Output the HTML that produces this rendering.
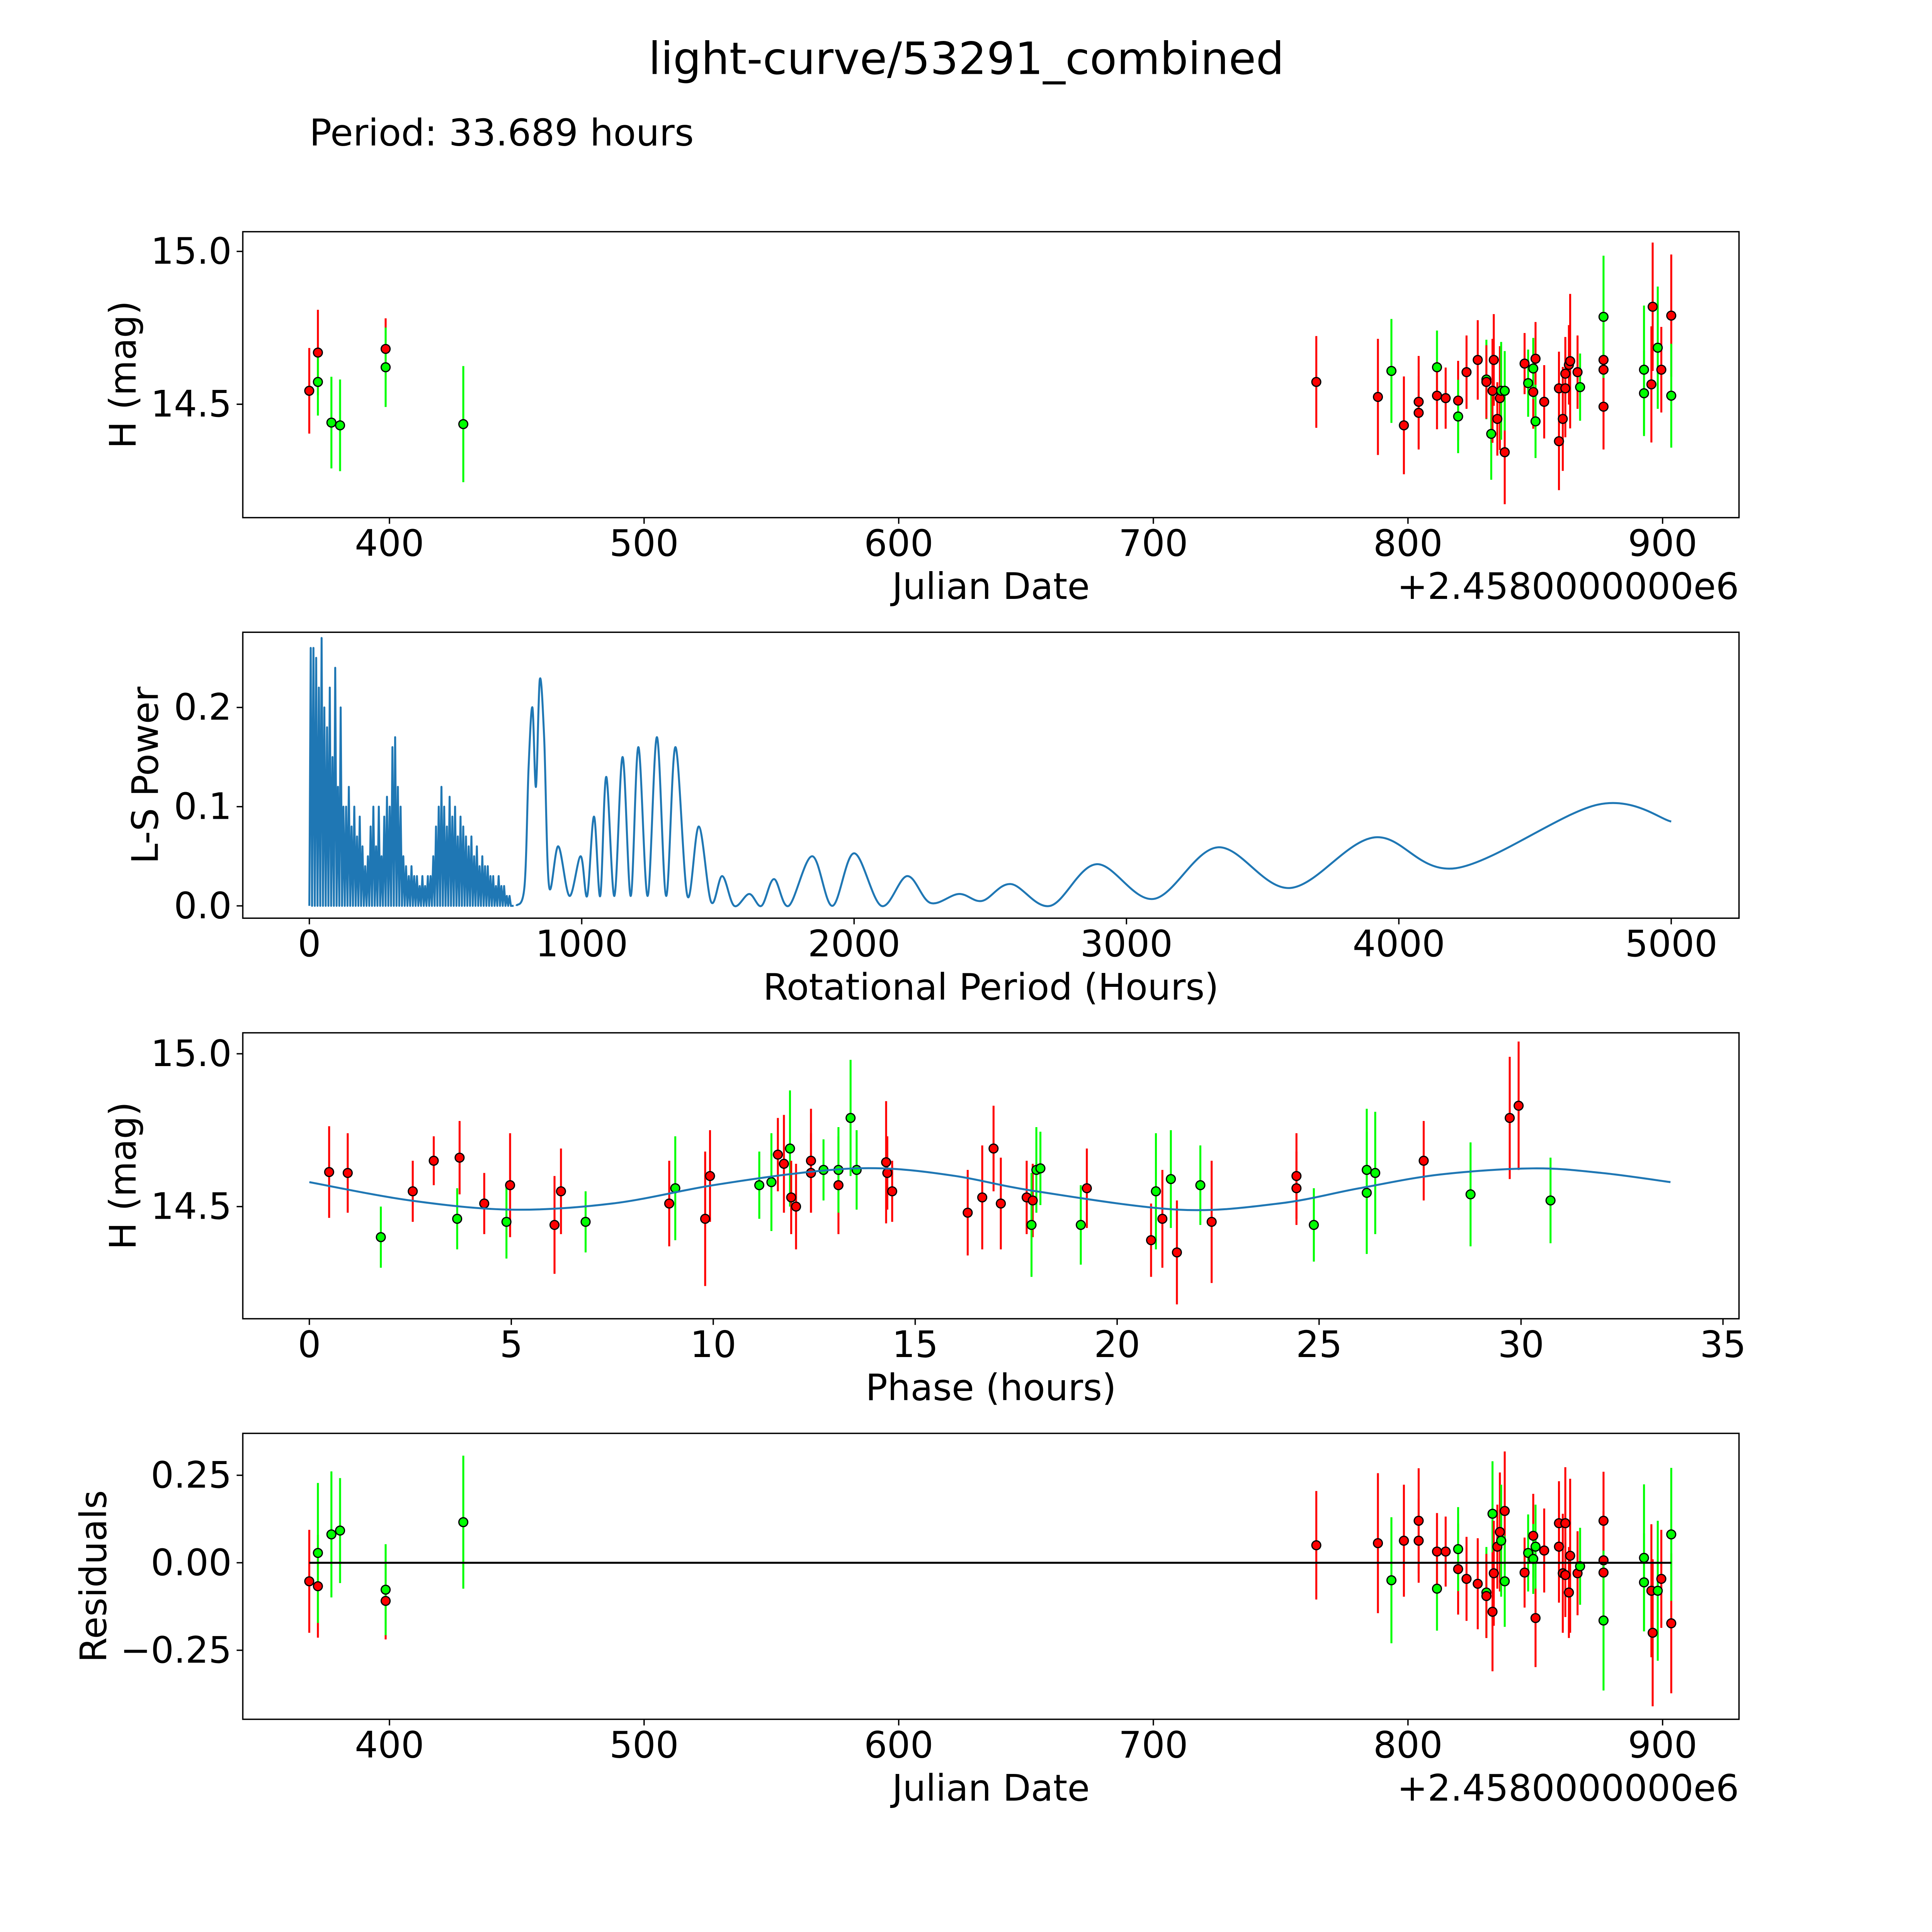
<!DOCTYPE html>
<html><head><meta charset="utf-8">
<style>
html,body{margin:0;padding:0;background:#fff;overflow:hidden;}
svg{display:block;position:absolute;left:0;top:0;}
text{font-family:"DejaVu Sans","Liberation Sans",sans-serif;fill:#000;}
</style></head>
<body>
<svg id="fig" xmlns="http://www.w3.org/2000/svg" width="5400" height="5400" viewBox="0 0 1693 1693">
<rect x="0" y="0" width="1693" height="1693" fill="#fff"/>
<text x="784" y="60" font-size="36" text-anchor="middle">light-curve/53291_combined</text>
<text x="251" y="118" font-size="30">Period: 33.689 hours</text>
</svg>
<script>
// ---------- Panel 1: light curve (Julian Date offset days) ----------
const lcDays = [368.5,371.9,371.9,377.2,380.6,398.5,398.5,429.0,764.0,788.2,793.5,798.4,804.2,804.2,811.4,811.4,814.8,819.7,819.7,823.0,827.4,830.8,830.8,832.7,833.2,833.7,835.1,836.1,836.6,838.0,838.0,845.8,847.2,849.2,849.2,850.1,850.1,853.5,859.3,859.3,860.8,861.8,861.8,863.2,863.7,866.6,867.6,876.8,876.8,876.8,876.8,892.7,892.7,895.6,896.1,898.1,899.5,903.4,903.4];
const lcMag = [14.544,14.669,14.573,14.44,14.431,14.681,14.621,14.435,14.573,14.524,14.609,14.431,14.508,14.472,14.621,14.528,14.52,14.512,14.46,14.605,14.645,14.581,14.573,14.403,14.544,14.645,14.452,14.52,14.544,14.343,14.544,14.633,14.569,14.54,14.617,14.649,14.444,14.508,14.552,14.379,14.452,14.552,14.6,14.629,14.641,14.605,14.556,14.492,14.613,14.645,14.786,14.613,14.536,14.565,14.819,14.685,14.613,14.79,14.528];
const lcErr = [0.14,0.14,0.11,0.15,0.15,0.1,0.13,0.19,0.15,0.19,0.17,0.16,0.15,0.12,0.12,0.11,0.1,0.13,0.12,0.12,0.13,0.13,0.12,0.15,0.17,0.15,0.12,0.17,0.16,0.17,0.13,0.1,0.11,0.12,0.1,0.12,0.12,0.12,0.12,0.16,0.17,0.16,0.12,0.13,0.22,0.12,0.11,0.14,0.14,0.13,0.2,0.21,0.14,0.19,0.21,0.2,0.14,0.2,0.17];
const lcBand = ["r","r","g","g","g","r","g","g","r","r","g","r","r","r","g","r","r","r","g","r","r","g","r","g","r","r","r","r","g","r","g","r","g","r","g","r","g","r","r","r","r","r","r","r","r","r","g","r","r","r","g","g","g","r","r","g","r","r","g"];

// ---------- Panel 2: Lomb-Scargle periodogram ----------
const denseStart = 5, denseStep = 10;
const densePeaks = [0.26,0.26,0.25,0.22,0.27,0.2,0.18,0.22,0.15,0.24,0.12,0.2,0.1,
 0.1,0.12,0.08,0.1,0.07,0.09,0.06,
 0.04,0.05,0.08,0.1,0.06,0.1,0.05,0.09,0.11,0.1,
 0.16,0.17,0.12,0.1,
 0.05,0.04,0.03,0.04,0.03,0.03,0.02,0.03,0.02,0.03,0.03,
 0.05,0.08,0.1,0.12,0.1,0.08,0.11,0.09,0.1,0.07,0.09,0.08,
 0.07,0.06,0.07,0.05,0.06,0.04,0.05,0.04,0.04,0.03,0.03,0.02,0.03,0.02,0.02,0.01,0.01,0.0];
const lsPeriods = [760,790,805,819,832,846,862,880,914,955,996,1020,1045,1068,1090,1120,1150,1180,1208,1242,1276,1310,1344,1388,1430,1475,1516,1560,1615,1660,1706,1760,1846,1920,2000,2100,2195,2280,2385,2470,2575,2720,2890,3100,3335,3600,3910,4210,4730,5000];
const lsPower = [0,0.02,0.14,0.2,0.12,0.228,0.17,0.02,0.06,0.01,0.05,0.01,0.09,0.01,0.13,0.01,0.15,0.01,0.16,0.01,0.17,0.01,0.16,0.01,0.08,0.004,0.03,0.0,0.012,0.0,0.027,0.0,0.05,0.0,0.053,0.0,0.03,0.003,0.012,0.005,0.022,0.0,0.042,0.007,0.059,0.018,0.069,0.038,0.102,0.085];

// ---------- Panel 3: phased light curve ----------
const phHours = [0.49,0.95,1.77,2.56,3.08,3.66,3.72,4.33,4.88,4.97,6.07,6.23,6.84,8.91,9.06,9.8,9.92,11.14,11.44,11.6,11.75,11.9,11.93,12.05,12.42,12.42,12.73,13.1,13.1,13.4,13.55,14.28,14.31,14.43,16.3,16.66,16.94,17.12,17.76,17.91,17.88,18.0,18.1,19.1,19.25,20.84,20.96,21.12,21.33,21.48,22.06,22.34,24.44,24.44,24.87,26.18,26.18,26.39,27.59,28.75,29.72,29.94,30.73];
const phMag = [14.613,14.61,14.40,14.55,14.65,14.46,14.66,14.51,14.45,14.57,14.44,14.55,14.45,14.51,14.56,14.46,14.60,14.57,14.58,14.67,14.64,14.69,14.53,14.50,14.65,14.61,14.62,14.57,14.62,14.79,14.62,14.645,14.61,14.55,14.48,14.53,14.69,14.51,14.53,14.52,14.44,14.62,14.625,14.44,14.56,14.39,14.55,14.46,14.59,14.35,14.57,14.45,14.60,14.56,14.44,14.545,14.62,14.61,14.65,14.54,14.79,14.83,14.52];
const phErr = [0.15,0.13,0.1,0.1,0.08,0.1,0.12,0.1,0.12,0.17,0.16,0.14,0.1,0.14,0.17,0.22,0.15,0.11,0.16,0.12,0.16,0.19,0.12,0.14,0.17,0.13,0.1,0.16,0.14,0.19,0.13,0.2,0.12,0.1,0.14,0.17,0.14,0.15,0.12,0.12,0.17,0.14,0.12,0.13,0.13,0.12,0.19,0.16,0.16,0.17,0.13,0.2,0.14,0.12,0.12,0.2,0.2,0.2,0.13,0.17,0.2,0.21,0.14];
const phBand = ["r","r","g","r","r","g","r","r","g","r","r","r","g","r","g","r","r","g","g","r","r","g","r","r","r","r","g","r","g","g","g","r","r","r","r","r","r","r","r","r","g","g","g","g","r","r","g","r","g","r","g","r","r","r","g","g","g","g","r","g","r","r","g"];
const modelPhase = [0,2.5,5,7.5,10,12.5,14.2,16,18,21.5,24,26,28,30.3,32,33.7];
const modelMag = [14.58,14.52,14.49,14.51,14.57,14.615,14.625,14.6,14.55,14.49,14.51,14.56,14.605,14.625,14.61,14.58];

// ---------- Panel 4: residuals ----------
const resDays = [368.5,371.9,371.9,377.2,380.6,398.5,398.5,429.0,764.0,788.2,793.5,798.4,804.2,804.2,811.4,811.4,814.8,819.7,819.7,823.0,827.4,830.8,830.8,833.2,833.2,833.7,835.1,836.1,836.6,838.0,838.0,845.8,847.2,849.2,849.2,850.1,850.1,853.5,859.3,859.3,860.8,861.8,861.8,863.2,863.7,866.6,867.6,876.8,876.8,876.8,876.8,892.7,892.7,895.6,896.1,898.1,899.5,903.4,903.4];
const resVal = [-0.053,-0.067,0.028,0.081,0.092,-0.109,-0.077,0.116,0.05,0.056,-0.05,0.063,0.12,0.063,-0.074,0.032,0.032,-0.018,0.039,-0.046,-0.06,-0.085,-0.095,0.14,-0.14,-0.03,0.046,0.088,0.063,0.148,-0.053,-0.028,0.028,0.077,0.011,-0.158,0.046,0.035,0.113,0.046,-0.03,0.113,-0.035,-0.085,0.02,-0.03,-0.01,0.12,0.007,-0.028,-0.165,0.014,-0.056,-0.08,-0.2,-0.08,-0.046,-0.173,0.081];
const resErr = [0.147,0.147,0.2,0.18,0.15,0.11,0.13,0.19,0.155,0.2,0.18,0.16,0.15,0.12,0.12,0.11,0.1,0.13,0.12,0.12,0.13,0.13,0.12,0.15,0.17,0.15,0.12,0.17,0.16,0.17,0.13,0.1,0.11,0.12,0.1,0.14,0.12,0.12,0.12,0.16,0.17,0.16,0.12,0.13,0.22,0.12,0.11,0.14,0.14,0.13,0.2,0.21,0.14,0.19,0.21,0.2,0.14,0.2,0.19];
const resBand = ["r","r","g","g","g","r","g","g","r","r","g","r","r","r","g","r","r","r","g","r","r","g","r","g","r","r","r","r","g","r","g","r","g","r","g","r","g","r","r","r","r","r","r","r","r","r","g","r","r","r","g","g","g","r","r","g","r","r","g"];

const jdTicks = [400,500,600,700,800,900];
const magTicks = [14.5,15.0];
const magTickLabels = ["14.5","15.0"];
const lsXTicks = [0,1000,2000,3000,4000,5000];
const lsYTicks = [0,0.1,0.2];
const lsYTickLabels = ["0.0","0.1","0.2"];
const phTicks = [0,5,10,15,20,25,30,35];
const resTicks = [-0.25,0,0.25];
const resTickLabels = ["\u22120.25","0.00","0.25"];

const NS = "http://www.w3.org/2000/svg";
const svg = document.getElementById('fig');
const FS = 29.5;
function mk(tag, attrs, parent){
  const e = document.createElementNS(NS, tag);
  for (const k in attrs) e.setAttribute(k, attrs[k]);
  (parent||svg).appendChild(e);
  return e;
}
const L = 197, R = 1411;
function lin(d0,d1,p0,p1){ return v => p0 + (v-d0)*(p1-p0)/(d1-d0); }

function frame(name){
  const g = mk('g', {});
  
  
  return g;
}
function drawBox(g, top, bottom){
  const r = mk('rect', {x:L, y:top, width:R-L, height:bottom-top, fill:'none', stroke:'#000', 'stroke-width':1.1}, g);
  
  
}
function xTicks(g, ticks, labels, sx, bottom){
  ticks.forEach((t,i)=>{
    const x = sx(t);
    const l = mk('line', {x1:x, x2:x, y1:bottom, y2:bottom+5, stroke:'#000', 'stroke-width':1.1}, g);
    
    
    const tx = mk('text', {x:x, y:bottom+31, 'font-size':FS, 'text-anchor':'middle'}, g);
    tx.textContent = labels[i];
    
    
  });
}
function yTicks(g, ticks, labels, sy){
  ticks.forEach((t,i)=>{
    const y = sy(t);
    const l = mk('line', {x1:L-5, x2:L, y1:y, y2:y, stroke:'#000', 'stroke-width':1.1}, g);
    
    
    const tx = mk('text', {x:L-9, y:y+10, 'font-size':FS, 'text-anchor':'end'}, g);
    tx.textContent = labels[i];
    
    
  });
}
function label(g, text, x, y, rot, name, anchor){
  const t = mk('text', {x:x, y:y, 'font-size':FS, 'text-anchor':anchor||'middle'}, g);
  if (rot) t.setAttribute('transform', `rotate(-90 ${x} ${y})`);
  t.textContent = text;
  
  
}
function points(g, xs, ys, es, bands, sx, sy, name){
  const col = {r:'#ff0000', g:'#00ff00'};
  xs.forEach((xv,i)=>{
    const x = sx(xv);
    const el = mk('line', {x1:x, x2:x, y1:sy(ys[i]-es[i]), y2:sy(ys[i]+es[i]), stroke:col[bands[i]], 'stroke-width':1.6}, g);
    
    
  });
  xs.forEach((xv,i)=>{
    const c = mk('circle', {cx:sx(xv), cy:sy(ys[i]), r:3.6, fill:col[bands[i]], stroke:'#000', 'stroke-width':1}, g);
    
    
  });
}
function smoothPath(xs, ys, sx, sy){
  const P = xs.map((v,i)=>[sx(v), sy(ys[i])]);
  let d = `M${P[0][0]},${P[0][1]}`;
  for (let i=0;i<P.length-1;i++){
    const p0 = P[Math.max(0,i-1)], p1 = P[i], p2 = P[i+1], p3 = P[Math.min(P.length-1,i+2)];
    const c1 = [p1[0]+(p2[0]-p0[0])/6, p1[1]+(p2[1]-p0[1])/6];
    const c2 = [p2[0]-(p3[0]-p1[0])/6, p2[1]-(p3[1]-p1[1])/6];
    d += ` C${c1[0]},${c1[1]} ${c2[0]},${c2[1]} ${p2[0]},${p2[1]}`;
  }
  return d;
}

// Panel 1
(function(){
  const top=188, bot=420;
  const g = frame('light-curve-panel');
  const sx = lin(400,900,316,1349), sy = lin(14.5,15.0,328,204);
  points(g, lcDays, lcMag, lcErr, lcBand, sx, sy, 'observation-point');
  drawBox(g, top, bot);
  xTicks(g, jdTicks, jdTicks.map(String), sx, bot);
  yTicks(g, magTicks, magTickLabels, sy);
  label(g, 'Julian Date', 804, 486, false, 'x-axis-title');
  label(g, '+2.4580000000e6', 1411, 486, false, 'x-axis-offset', 'end');
  label(g, 'H (mag)', 110, 304, true, 'y-axis-title');
})();

// Panel 2
(function(){
  const top=513, bot=745;
  const g = frame('periodogram-panel');
  const sx = lin(0,5000,251,1356), sy = lin(0,0.2,735,574);
  let d = `M${sx(0)},${sy(0)}`;
  densePeaks.forEach((v,i)=>{
    const p = denseStart + i*denseStep;
    d += ` L${sx(p)},${sy(v)} L${sx(p+denseStep/2)},${sy(0)}`;
  });
  const dp = mk('path', {d:d, fill:'none', stroke:'#1f77b4', 'stroke-width':1.6, 'stroke-linejoin':'round'}, g);
  
  
  const lp = mk('path', {d:smoothPath(lsPeriods, lsPower, sx, sy), fill:'none', stroke:'#1f77b4', 'stroke-width':1.6}, g);
  
  
  drawBox(g, top, bot);
  xTicks(g, lsXTicks, lsXTicks.map(String), sx, bot);
  yTicks(g, lsYTicks, lsYTickLabels, sy);
  label(g, 'Rotational Period (Hours)', 804, 811, false, 'x-axis-title');
  label(g, 'L-S Power', 128, 629, true, 'y-axis-title');
})();

// Panel 3
(function(){
  const top=838, bot=1070;
  const g = frame('phased-light-curve-panel');
  const sx = lin(0,35,251,1398), sy = lin(14.5,15.0,979,855);
  points(g, phHours, phMag, phErr, phBand, sx, sy, 'phased-point');
  const mp = mk('path', {d:smoothPath(modelPhase, modelMag, sx, sy), fill:'none', stroke:'#1f77b4', 'stroke-width':1.6}, g);
  
  
  drawBox(g, top, bot);
  xTicks(g, phTicks, phTicks.map(String), sx, bot);
  yTicks(g, magTicks, magTickLabels, sy);
  label(g, 'Phase (hours)', 804, 1136, false, 'x-axis-title');
  label(g, 'H (mag)', 110, 954, true, 'y-axis-title');
})();

// Panel 4
(function(){
  const top=1163, bot=1395;
  const g = frame('residuals-panel');
  const sx = lin(400,900,316,1349), sy = lin(0,0.25,1268,1197);
  points(g, resDays, resVal, resErr, resBand, sx, sy, 'residual-point');
  const zl = mk('line', {x1:sx(368.5), x2:sx(903.4), y1:sy(0), y2:sy(0), stroke:'#000', 'stroke-width':1.6}, g);
  
  
  drawBox(g, top, bot);
  xTicks(g, jdTicks, jdTicks.map(String), sx, bot);
  yTicks(g, resTicks, resTickLabels, sy);
  label(g, 'Julian Date', 804, 1461, false, 'x-axis-title');
  label(g, '+2.4580000000e6', 1411, 1461, false, 'x-axis-offset', 'end');
  label(g, 'Residuals', 86, 1279, true, 'y-axis-title');
})();
</script>
</body></html>
